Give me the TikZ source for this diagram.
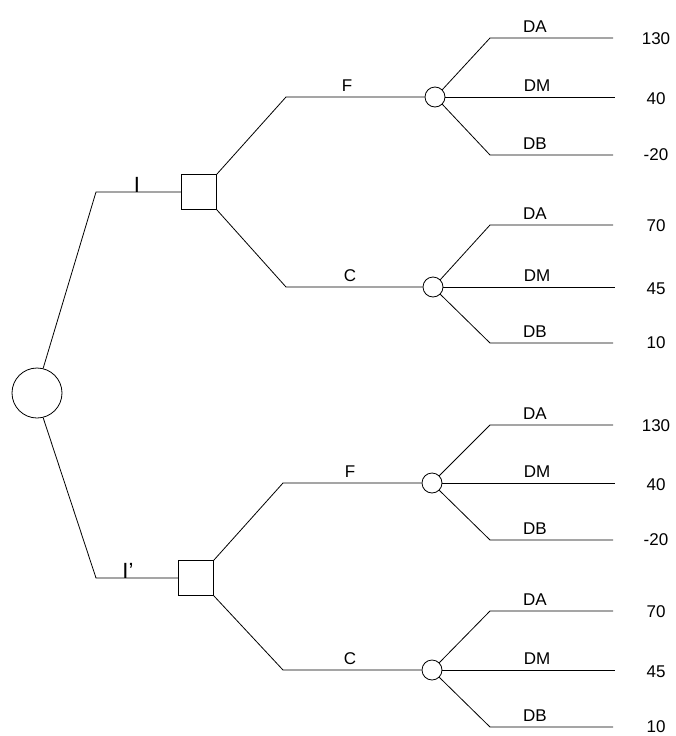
\documentclass[tikz,border=0pt]{standalone}
\usepackage{fontspec}
\setmainfont{Liberation Sans}
\begin{document}
\begin{tikzpicture}[x=1pt,y=-1pt,line width=0.8pt,
  chance/.style={circle,draw,inner sep=0pt,minimum size=20pt},
  bigchance/.style={circle,draw,inner sep=0pt,minimum size=50pt},
  decision/.style={rectangle,draw,inner sep=0pt,minimum size=35pt},
  lbl/.style={font=\fontsize{17}{19}\selectfont,inner sep=0pt,anchor=south},
  ilbl/.style={font=\fontsize{22}{24}\selectfont,inner sep=0pt,anchor=south},
  val/.style={font=\fontsize{17}{19}\selectfont,inner sep=0pt}]
\useasboundingbox (0,0) rectangle (676,736);

% root
\node[bigchance] (root) at (37,393) {};

% decision nodes
\node[decision] (d1) at (199,192) {};
\node[decision] (d2) at (196,578) {};
\coordinate (k1) at (96,192);
\coordinate (k2) at (96,578);
\draw (root.76) -- (k1) -- (d1.west);
\draw (root.-76) -- (k2) -- (d2.west);
\node[ilbl] (li1) at (137,193) {I};
\node[ilbl,anchor=south west] (li2) at (122,579) {I'};

% chance nodes
\node[chance] (c1) at (435,97) {};
\node[chance] (c2) at (433,287) {};
\node[chance] (c3) at (432,483) {};
\node[chance] (c4) at (432,670) {};
\coordinate (kf1) at (286,97);
\coordinate (kc1) at (286,287);
\coordinate (kf2) at (283,483);
\coordinate (kc2) at (283,670);
\draw (d1.north east) -- (kf1) -- (c1.west);
\draw (d1.south east) -- (kc1) -- (c2.west);
\draw (d2.north east) -- (kf2) -- (c3.west);
\draw (d2.south east) -- (kc2) -- (c4.west);
\node[lbl] (lf1) at (347,92) {F};
\node[lbl] (lc1) at (350,282) {C};
\node[lbl] (lf2) at (350,478) {F};
\node[lbl] (lc2) at (350,665) {C};

% outcome branches
\foreach \n/\cy/\ay/\by/\va/\vm/\vb in
  {1/97/38/155/130/40/-20,
   2/287/225/343/70/45/10,
   3/483/425/540/130/40/-20,
   4/670/611/727/70/45/10}{
  \coordinate (a\n) at (490,\ay);
  \coordinate (b\n) at (490,\by);
  \coordinate (ae\n) at (613,\ay);
  \coordinate (me\n) at (615,\cy);
  \coordinate (be\n) at (613,\by);
  \draw (c\n.45) -- (a\n) -- (ae\n);
  \draw (c\n.east) -- (me\n);
  \draw (c\n.-45) -- (b\n) -- (be\n);
  \node[lbl] (la\n) at (535,\ay-5) {DA};
  \node[lbl] (lm\n) at (537,\cy-5) {DM};
  \node[lbl] (lb\n) at (535,\by-5) {DB};
  \node[val] (va\n) at (656,\ay+1) {\va};
  \node[val] (vm\n) at (656,\cy+2) {\vm};
  \node[val] (vb\n) at (656,\by) {\vb};
}
\end{tikzpicture}
\end{document}
